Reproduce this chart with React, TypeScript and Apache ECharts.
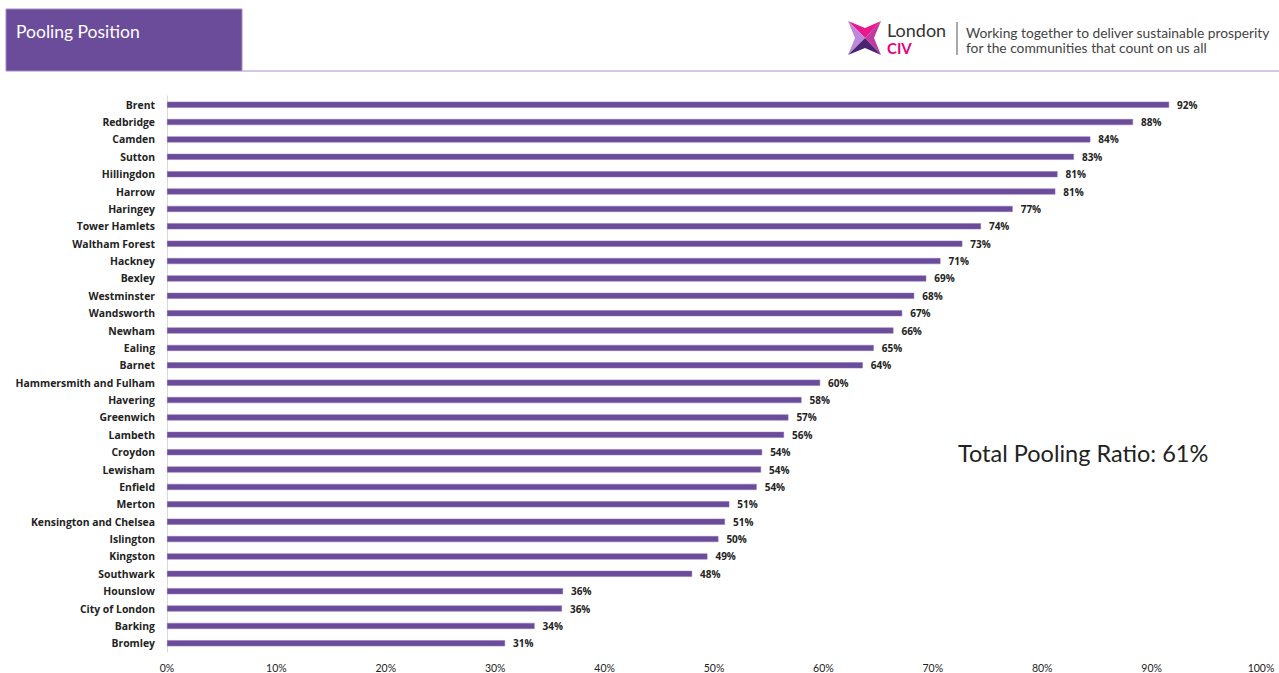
import React, { useEffect, useRef } from "react";
import * as echarts from "echarts";

const boroughs = [
  "Brent", "Redbridge", "Camden", "Sutton", "Hillingdon", "Harrow", "Haringey",
  "Tower Hamlets", "Waltham Forest", "Hackney", "Bexley", "Westminster", "Wandsworth",
  "Newham", "Ealing", "Barnet", "Hammersmith and Fulham", "Havering", "Greenwich",
  "Lambeth", "Croydon", "Lewisham", "Enfield", "Merton", "Kensington and Chelsea",
  "Islington", "Kingston", "Southwark", "Hounslow", "City of London", "Barking", "Bromley",
];

const poolingPct = [
  91.6, 88.3, 84.4, 82.9, 81.4, 81.2, 77.3, 74.4, 72.7, 70.7, 69.4, 68.3, 67.2,
  66.4, 64.6, 63.6, 59.7, 58.0, 56.8, 56.4, 54.4, 54.3, 53.9, 51.4, 51.0,
  50.4, 49.4, 48.0, 36.2, 36.1, 33.6, 30.9,
];

const xTicks = [0, 10, 20, 30, 40, 50, 60, 70, 80, 90, 100];

const titleText = "Pooling Position";
const totalText = "Total Pooling Ratio: 61%";
const taglineLines = [
  "Working together to deliver sustainable prosperity",
  "for the communities that count on us all",
];

const FONT = "Lato, 'Open Sans', 'Noto Sans', sans-serif";
const LABEL_FONT = "'Open Sans', Lato, sans-serif";
const PURPLE = "#6b4c9a";

export default function App() {
  const ref = useRef<HTMLDivElement>(null);
  useEffect(() => {
    if (!ref.current) return;
    const chart = echarts.init(ref.current, undefined, { renderer: "svg" });
    chart.setOption({
      animation: false,
      textStyle: { fontFamily: FONT },
      grid: { left: 167, right: 18, top: 96, bottom: 21, containLabel: false },
      xAxis: {
        type: "value",
        min: xTicks[0],
        max: xTicks[xTicks.length - 1],
        interval: 10,
        axisLine: { show: false },
        axisTick: { show: false },
        splitLine: { show: false },
        axisLabel: {
          formatter: (v: number) => `${v}%`,
          fontSize: 10.5,
          color: "#222",
          margin: 10,
          fontFamily: FONT,
        },
      },
      yAxis: {
        type: "category",
        data: boroughs,
        inverse: true,
        axisLine: { show: true, lineStyle: { color: "#d9d9d9", width: 1 } },
        axisTick: { show: false },
        axisLabel: {
          fontSize: 10.4,
          fontWeight: "bold",
          color: "#222",
          margin: 12,
          fontFamily: LABEL_FONT,
        },
      },
      series: [
        {
          type: "bar",
          data: poolingPct,
          barWidth: 6,
          itemStyle: { color: PURPLE, borderColor: "#8a70b4", borderWidth: 0.5 },
          label: {
            show: true,
            position: "right",
            distance: 8,
            formatter: (p: any) => `${Math.round(p.value)}%`,
            fontSize: 10,
            fontWeight: "bold",
            color: "#222",
            fontFamily: LABEL_FONT,
          },
        },
      ],
      graphic: [
        { type: "rect", shape: { x: 6, y: 9, width: 236, height: 62 }, style: { fill: PURPLE, stroke: "#a08cc4", lineWidth: 1 } },
        { type: "text", x: 16, y: 31, style: { text: titleText, fill: "#fff", fontSize: 17.5, fontFamily: FONT, verticalAlign: "middle" } },
        { type: "line", shape: { x1: 242, y1: 71, x2: 1279, y2: 71 }, style: { stroke: "#c4b5dc", lineWidth: 1.5 } },
        // logo
        { type: "polygon", shape: { points: [[848, 21], [865, 28], [881, 21], [865, 38]] }, style: { fill: "#e8198b" } },
        { type: "polygon", shape: { points: [[881, 21], [874, 38], [881, 55], [865, 38]] }, style: { fill: "#c03aa0" } },
        { type: "polygon", shape: { points: [[848, 21], [865, 38], [848, 55], [855, 38]] }, style: { fill: "#b98ae0" } },
        { type: "polygon", shape: { points: [[848, 55], [865, 38], [881, 55], [865, 48]] }, style: { fill: "#4a2470" } },
        { type: "text", x: 887, y: 30, style: { text: "London", fill: "#333", fontSize: 18, fontFamily: FONT, verticalAlign: "middle" } },
        { type: "text", x: 887, y: 47.5, style: { text: "CIV", fill: "#e5007d", fontSize: 15, fontWeight: "bold", fontFamily: FONT, verticalAlign: "middle" } },
        { type: "line", shape: { x1: 957, y1: 22, x2: 957, y2: 55 }, style: { stroke: "#555", lineWidth: 1 } },
        { type: "text", x: 966, y: 32, style: { text: taglineLines[0], fill: "#444", fontSize: 13.8, fontFamily: FONT, verticalAlign: "middle" } },
        { type: "text", x: 966, y: 47, style: { text: taglineLines[1], fill: "#444", fontSize: 13.8, fontFamily: FONT, verticalAlign: "middle" } },
        { type: "text", x: 958, y: 453, style: { text: totalText, fill: "#222", fontSize: 23.5, fontFamily: FONT, verticalAlign: "middle" } },
      ],
    });
    return () => chart.dispose();
  }, []);
  return (
    <div
      ref={ref}
      style={{ position: "fixed", left: 0, top: 0, width: 1279, height: 673, background: "#fff" }}
    />
  );
}
